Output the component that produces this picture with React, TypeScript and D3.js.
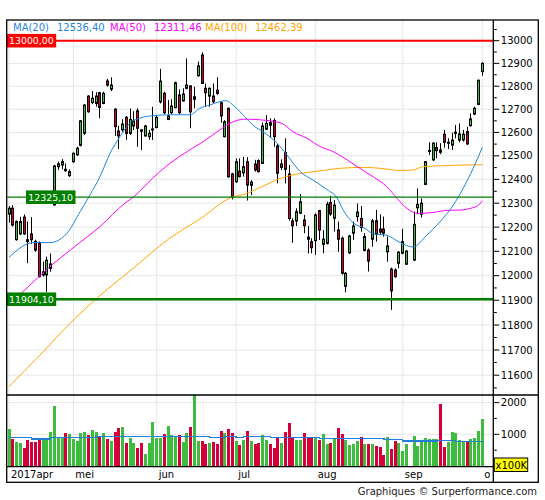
import * as d3 from "d3";

// ---------------------------------------------------------------------------
// Data (daily candles 4 apr 2017 - 2 oct 2017)
// ---------------------------------------------------------------------------

const OPEN: (number | null)[] = [
  12254, 12279, 12148, 12172, 12242, 12148, 12172, 12141, 12134, 12003,
  12003, 12030, 12293, 12454, 12461, 12443, 12416, 12475, 12504, 12545,
  12597, 12757, 12729, 12725, 12772, 12725, 12823, 12787, 12700, 12606,
  12611, 12665, 12596, 12628, 12693, 12611, 12585, 12582, 12612, 12621,
  12732, 12769, 12656, 12685, 12707, 12762, 12736, 12791, 12801, 12743,
  12846, 12937, 12791, 12757, 12757, 12783, 12728, 12582, 12704, 12423,
  12390, 12435, 12428, 12475, 12375, 12465, 12480, 12468, 12614, 12642,
  12651, 12542, 12451, 12514, 12423, 12226, 12226, 12258, 12230, 12159,
  12140, 12144, 12269, 12129, 12133, 12303, 12237, 12188, 12154, 11956,
  12094, 12175, 12244, 12236, 12104, 12105, 12150, 12227, 12192, 12192,
  12098, 12027, 12023, 12051, 12092, 12047, null, 12064, 12281, 12254,
  12379, 12519, 12483, 12522, 12525, 12592, 12554, 12546, 12596, 12567,
  12568, 12604, 12629, 12679, 12721, 12864,
];
const HIGH: (number | null)[] = [
  12288, 12292, 12228, 12243, 12253, 12223, 12242, 12148, 12141, 12058,
  12078, 12091, 12461, 12475, 12486, 12468, 12443, 12514, 12539, 12653,
  12722, 12761, 12779, 12774, 12776, 12776, 12832, 12839, 12704, 12628,
  12657, 12671, 12703, 12692, 12704, 12614, 12632, 12611, 12711, 12675,
  12876, 12776, 12740, 12743, 12820, 12786, 12791, 12922, 12805, 12798,
  12908, 12949, 12812, 12794, 12812, 12839, 12733, 12653, 12707, 12428,
  12489, 12489, 12496, 12494, 12397, 12483, 12485, 12642, 12675, 12661,
  12661, 12551, 12485, 12575, 12461, 12237, 12279, 12339, 12251, 12205,
  12154, 12258, 12272, 12188, 12306, 12331, 12313, 12223, 12161, 12015,
  12168, 12223, 12299, 12288, 12175, 12112, 12234, 12272, 12253, 12244,
  12161, 12033, 12030, 12101, 12193, 12104, null, 12265, 12362, 12320,
  12478, 12558, 12558, 12558, 12554, 12611, 12575, 12599, 12632, 12639,
  12611, 12625, 12682, 12711, 12829, 12905,
];
const LOW: (number | null)[] = [
  12219, 12202, 12144, 12168, 12168, 12051, 12131, 12098, 11993, 11996,
  11934, 12016, 12289, 12440, 12443, 12432, 12411, 12471, 12500, 12540,
  12589, 12685, 12722, 12711, 12661, 12722, 12798, 12779, 12585, 12529,
  12603, 12568, 12589, 12610, 12539, 12525, 12582, 12568, 12568, 12618,
  12725, 12679, 12653, 12679, 12704, 12679, 12733, 12786, 12618, 12704,
  12842, 12810, 12711, 12711, 12725, 12762, 12642, 12579, 12408, 12316,
  12386, 12408, 12412, 12311, 12334, 12433, 12429, 12466, 12611, 12579,
  12539, 12383, 12440, 12383, 12227, 12135, 12205, 12255, 12175, 12091,
  12092, 12085, 12147, 12092, 12128, 12247, 12182, 12098, 12004, 11932,
  12089, 12147, 12223, 12181, 12100, 12017, 12119, 12140, 12168, 12161,
  12057, 11861, 11992, 12030, 12088, 12044, null, 12060, 12254, 12240,
  12376, 12504, 12478, 12490, 12507, 12535, 12529, 12525, 12575, 12558,
  12561, 12546, 12625, 12675, 12718, 12846,
];
const CLOSE: (number | null)[] = [
  12279, 12209, 12223, 12223, 12172, 12140, 12148, 12105, 11996, 12016,
  12063, 12048, 12457, 12466, 12475, 12437, 12433, 12511, 12532, 12650,
  12718, 12689, 12748, 12757, 12708, 12769, 12805, 12805, 12625, 12585,
  12636, 12596, 12656, 12650, 12618, 12605, 12628, 12596, 12615, 12665,
  12822, 12685, 12671, 12714, 12815, 12685, 12766, 12805, 12689, 12754,
  12889, 12812, 12772, 12791, 12733, 12769, 12671, 12646, 12411, 12325,
  12475, 12412, 12454, 12376, 12389, 12440, 12433, 12628, 12639, 12631,
  12582, 12426, 12465, 12443, 12236, 12206, 12265, 12306, 12206, 12150,
  12115, 12251, 12188, 12150, 12296, 12255, 12292, 12150, 12010, 12010,
  12163, 12205, 12263, 12198, 12161, 12060, 12226, 12170, 12179, 12175,
  12122, 11938, 11996, 12096, 12140, 12101, null, 12212, 12295, 12300,
  12475, 12523, 12554, 12535, 12515, 12558, 12558, 12567, 12601, 12594,
  12592, 12551, 12658, 12704, 12826, 12900,
];
// volume, in units of 100K
const VOLUME: (number | null)[] = [
  1158, 842, 758, 716, 558, 811, 747, 747, 853, 811,
  811, 1063, 1884, 895, 895, 1032, 1011, 842, 779, 1032,
  1063, 968, 1126, 1063, 937, 1032, 842, 779, 1063, 1189,
  1221, 716, 874, 716, 558, 716, 368, 716, 1379, 874,
  874, 1011, 1253, 968, 937, 968, 747, 1032, 1221, 2300,
  779, 779, 684, 716, 747, 684, 1095, 1032, 1158, 1032,
  779, 653, 811, 1095, 780, 680, 720, 980, 810, 690,
  560, 900, 730, 1080, 1370, 870, 820, 820, 1040, 880,
  880, 880, 820, 1000, 690, 720, 850, 1190, 1010, 820,
  650, 690, 780, 930, 700, 700, 680, 640, 590, 340,
  930, 540, 780, 740, 460, 680, null, 960, 620, 830,
  870, 840, 850, 850, 1950, 610, 770, 1060, 1030, 820,
  800, 760, 850, 880, 1100, 1480,
];

// moving averages, sampled along the curves (candle index, value)
const MA20_IDX = [0, 6.4, 10.8, 15.2, 18.8, 21.4, 24, 26.7, 29.3, 32, 34.6, 38, 42.5, 47.8, 50.4, 53, 55.7, 57.3, 59.7, 62.3, 64.4, 67.6, 70.8, 73.4, 76.9, 80.3, 84, 86.6, 88.3, 90.9, 94, 96.2, 99.8, 103.3, 106.7, 110.3, 113.8, 117.3, 119.9, 122.6, 125];
const MA20_VAL = [12075, 12136, 12136, 12173, 12265, 12335, 12411, 12511, 12582, 12641, 12662, 12672, 12676, 12676, 12704, 12718, 12733, 12737, 12710, 12667, 12632, 12597, 12554, 12504, 12433, 12397, 12357, 12323, 12270, 12218, 12195, 12173, 12166, 12136, 12118, 12166, 12222, 12291, 12361, 12447, 12536];
const MA50_IDX = [0, 4.2, 10.8, 17.4, 24, 30.6, 32.8, 37.9, 42.5, 47, 51.3, 55.7, 59.2, 62.3, 69.8, 72.4, 75, 78.7, 82.1, 85.6, 89.3, 91.9, 94, 96.2, 99.8, 102.5, 105.1, 108.1, 112, 115.7, 119.1, 121.8, 124, 125];
const MA50_VAL = [11880, 11942, 12037, 12120, 12202, 12300, 12325, 12405, 12468, 12518, 12561, 12611, 12646, 12657, 12648, 12636, 12603, 12575, 12540, 12518, 12483, 12455, 12433, 12411, 12369, 12320, 12278, 12257, 12261, 12270, 12271, 12278, 12292, 12310];
const MA100_IDX = [0, 8.2, 17, 23.2, 32.8, 42.1, 50.5, 59.2, 62.3, 66.3, 71.6, 76.9, 82.1, 87.4, 94, 98, 103.3, 106.7, 109.4, 114.6, 119.9, 125];
const MA100_VAL = [11555, 11680, 11820, 11908, 12030, 12150, 12235, 12327, 12338, 12366, 12404, 12425, 12436, 12447, 12451, 12447, 12438, 12440, 12454, 12458, 12461, 12462];

// volume average, drawn as steps
const VOL_MA_IDX = [0, 6, 11, 23, 53, 57, 60, 62, 69, 82, 99, 104, 113, 118, 125];
const VOL_MA_VAL = [890, 850, 895, 935, 895, 935, 895, 930, 900, 870, 835, 790, 810, 780, 790];

const MONTH_IDX = [0, 17, 39, 60, 81, 104, 125];
const MONTH_LABELS = ["2017apr", "mei", "jun", "jul", "aug", "sep", "o"];

const LEGEND_NAMES = ["MA(20)", "MA(50)", "MA(100)"];
const LEGEND_VALUES = ["12536,40", "12311,46", "12462,39"];

const LEVEL_VALUES = [13000, 12325.1, 11904.1];
const LEVEL_LABELS = ["13000,00", "12325,10", "11904,10"];

const PRICE_TICKS = d3.range(11500, 13001, 100);
const PRICE_MINOR = d3.range(11550, 13100, 100);
const VOL_TICKS = [1000, 2000];
const VOL_MINOR = [500, 1500];

// ---------------------------------------------------------------------------
// Palette / layout
// ---------------------------------------------------------------------------

const FONT = "DejaVu Sans, Verdana, sans-serif";
const GREEN = "#3dbd3d";
const RED = "#d5003b";
const GRID = "#e6e6e6";
const MA_COLORS = ["#1f84dc", "#ff00ff", "#ffa500"];
const LEVEL_COLORS = ["#ff0000", "#007f00", "#007f00"];
const LEVEL_WIDTHS = [2, 1.2, 2.6];
const LEVEL_BOX_X = [6.7, 26, 6.7];
const LEGEND_X = [13, 57, 110, 154, 205, 255];

const FR = { left: 6.7, top: 20, right: 538.3, bottom: 482.3 };
const AXIS_X = 493.3;
const PRICE_BOTTOM = 395;
const VOL_BOTTOM = 466.7;

export default function App() {
  const x = d3.scaleLinear().domain([0, 125]).range([9, 482.3]);
  const y = d3.scaleLog().domain([13000, 11600]).range([40.7, 375.2]);
  const vy = d3.scaleLinear().domain([0, 2000]).range([466, 402.6]);

  const maLine = (idx: number[], val: number[]) =>
    d3
      .line<number>()
      .x((_, k) => x(idx[k]))
      .y((v) => y(v))
      .curve(d3.curveMonotoneX)(val) ?? "";

  const volMaPath =
    d3
      .line<number>()
      .x((_, k) => x(VOL_MA_IDX[k]))
      .y((v) => vy(v))
      .curve(d3.curveStepAfter)(VOL_MA_VAL) ?? "";

  const mas = [
    maLine(MA100_IDX, MA100_VAL),
    maLine(MA50_IDX, MA50_VAL),
    maLine(MA20_IDX, MA20_VAL),
  ];
  const maColors = [MA_COLORS[2], MA_COLORS[1], MA_COLORS[0]];

  return (
    <svg
      width={545}
      height={500}
      style={{ position: "absolute", left: 0, top: 0, background: "#fff" }}
      fontFamily={FONT}
    >
      <defs>
        <clipPath id="pclip">
          <rect x={FR.left} y={FR.top} width={AXIS_X - FR.left} height={PRICE_BOTTOM - FR.top} />
        </clipPath>
        <clipPath id="vclip">
          <rect x={FR.left} y={PRICE_BOTTOM} width={AXIS_X - FR.left} height={VOL_BOTTOM - PRICE_BOTTOM} />
        </clipPath>
      </defs>

      {/* price grid */}
      <g clipPath="url(#pclip)">
        {PRICE_TICKS.map((t) => (
          <line key={t} x1={FR.left} x2={AXIS_X} y1={y(t)} y2={y(t)} stroke={GRID} strokeWidth={1} />
        ))}
      </g>
      {/* month grid through both panels */}
      {MONTH_IDX.map((m) => (
        <line key={m} x1={x(m)} x2={x(m)} y1={FR.top} y2={VOL_BOTTOM} stroke={GRID} strokeWidth={1} />
      ))}
      <g clipPath="url(#vclip)">
        {VOL_TICKS.map((t) => (
          <line key={t} x1={FR.left} x2={AXIS_X} y1={vy(t)} y2={vy(t)} stroke={GRID} strokeWidth={1} />
        ))}
      </g>

      {/* candles */}
      <g clipPath="url(#pclip)">
        {OPEN.map((o, i) => {
          const c = CLOSE[i];
          const h = HIGH[i];
          const l = LOW[i];
          if (o == null || c == null || h == null || l == null) return null;
          const L = Math.round(x(i) - 1.5);
          const top = y(Math.max(o, c));
          const bot = y(Math.min(o, c));
          return (
            <g key={i}>
              <line x1={L + 1.5} x2={L + 1.5} y1={y(h)} y2={y(l)} stroke="#000" strokeWidth={1} />
              <rect
                x={L + 0.5}
                y={top}
                width={2}
                height={Math.max(bot - top, 1)}
                fill={c >= o ? GREEN : RED}
                stroke="#000"
                strokeWidth={1}
              />
            </g>
          );
        })}

        {/* moving averages */}
        {mas.map((d, k) => (
          <path key={k} d={d} fill="none" stroke={maColors[k]} strokeWidth={1} />
        ))}
      </g>

      {/* support / resistance levels */}
      {LEVEL_VALUES.map((v, k) => (
        <g key={v}>
          <line
            x1={FR.left}
            x2={AXIS_X}
            y1={y(v)}
            y2={y(v)}
            stroke={LEVEL_COLORS[k]}
            strokeWidth={LEVEL_WIDTHS[k]}
          />
          <rect x={LEVEL_BOX_X[k]} y={y(v) - 6.8} width={49.5} height={13.6} fill={LEVEL_COLORS[k]} />
          <text x={LEVEL_BOX_X[k] + 2.3} y={y(v) + 3.5} fontSize={9.4} fill="#fff">
            {LEVEL_LABELS[k]}
          </text>
        </g>
      ))}

      {/* legend */}
      {LEGEND_NAMES.map((n, k) => (
        <g key={n} fontSize={10} fill={MA_COLORS[k]}>
          <text x={LEGEND_X[k * 2]} y={31}>{n}</text>
          <text x={LEGEND_X[k * 2 + 1]} y={31}>{LEGEND_VALUES[k]}</text>
        </g>
      ))}

      {/* volume bars */}
      <g clipPath="url(#vclip)" shapeRendering="crispEdges">
        {VOLUME.map((v, i) => {
          const o = OPEN[i];
          const c = CLOSE[i];
          if (v == null || o == null || c == null) return null;
          const L = Math.round(x(i) - 1.5);
          return (
            <rect key={i} x={L} y={vy(v)} width={3} height={vy(0) - vy(v)} fill={c >= o ? GREEN : RED} />
          );
        })}
        <path d={volMaPath} fill="none" stroke="#1f7fd6" strokeWidth={1.4} />
      </g>

      {/* right price axis */}
      {PRICE_TICKS.filter((t) => y(t) > FR.top && y(t) < PRICE_BOTTOM).map((t) => (
        <g key={t}>
          <line x1={AXIS_X} x2={AXIS_X + 6} y1={y(t)} y2={y(t)} stroke="#000" />
          <text x={AXIS_X + 7.5} y={y(t)} dy="0.36em" fontSize={10} fill="#000">
            {t}
          </text>
        </g>
      ))}
      {PRICE_MINOR.filter((t) => y(t) > FR.top && y(t) < PRICE_BOTTOM).map((t) => (
        <line key={t} x1={AXIS_X} x2={AXIS_X + 3.5} y1={y(t)} y2={y(t)} stroke="#000" />
      ))}

      {/* right volume axis */}
      {VOL_TICKS.map((t) => (
        <g key={t}>
          <line x1={AXIS_X} x2={AXIS_X + 6} y1={vy(t)} y2={vy(t)} stroke="#000" />
          <text x={AXIS_X + 7.5} y={vy(t)} dy="0.36em" fontSize={10} fill="#000">
            {t}
          </text>
        </g>
      ))}
      {VOL_MINOR.map((t) => (
        <line key={t} x1={AXIS_X} x2={AXIS_X + 3.5} y1={vy(t)} y2={vy(t)} stroke="#000" />
      ))}
      <rect x={494.3} y={458} width={33.4} height={13.5} fill="#ffff00" stroke="#000" strokeWidth={1} />
      <text x={495.6} y={468.6} fontSize={10} fill="#000">
        x100K
      </text>

      {/* month labels */}
      {MONTH_IDX.map((m, k) => (
        <text key={m} x={x(m) + 2} y={478} fontSize={10} fill="#000">
          {MONTH_LABELS[k]}
        </text>
      ))}

      {/* frame */}
      <rect
        x={FR.left}
        y={FR.top}
        width={FR.right - FR.left}
        height={FR.bottom - FR.top}
        fill="none"
        stroke="#000"
        strokeWidth={1.3}
      />
      <line x1={AXIS_X} x2={AXIS_X} y1={FR.top} y2={FR.bottom} stroke="#000" strokeWidth={1.3} />
      <line x1={FR.left} x2={FR.right} y1={PRICE_BOTTOM} y2={PRICE_BOTTOM} stroke="#000" strokeWidth={1.3} />
      <line x1={FR.left} x2={AXIS_X} y1={VOL_BOTTOM} y2={VOL_BOTTOM} stroke="#000" strokeWidth={1.3} />

      <text x={537} y={495} textAnchor="end" fontSize={10} fill="#222">
        Graphiques © Surperformance.com
      </text>
    </svg>
  );
}
